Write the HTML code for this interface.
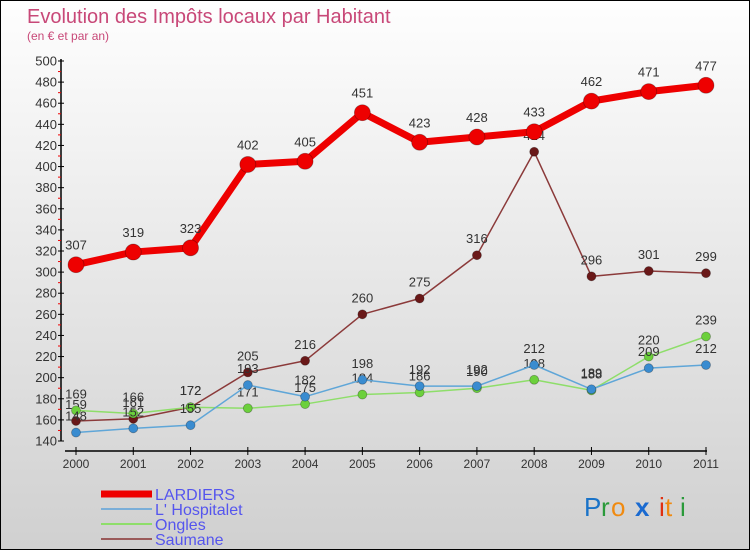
<!DOCTYPE html>
<html><head><meta charset="utf-8"><style>
body{margin:0;}
#wrap{position:relative;width:748px;height:548px;border:1px solid #000;background:linear-gradient(#fefefe,#d0d0d0);font-family:"Liberation Sans",sans-serif;overflow:hidden}
svg{position:absolute;left:0;top:0}
</style></head><body>
<div id="wrap">
<svg id="c" width="750" height="550">
<text x="26" y="22" font-size="20" fill="#c84878">Evolution des Impôts locaux par Habitant</text>
<text x="26" y="39" font-size="12" fill="#c84878">(en € et par an)</text>
<g id="axes"></g><g id="series"></g><g id="legend"></g>
<g font-size="26" font-family="Liberation Sans, sans-serif">
<text x="583" y="515" fill="#1a73c8">P</text><text x="600" y="515" fill="#2a9a3a">r</text><text x="610" y="515" fill="#f08a10">o</text><text x="634" y="515" fill="#1a6ad0" font-weight="bold">x</text><text x="658" y="515" fill="#e03010">i</text><text x="664" y="515" fill="#f08a10">t</text><text x="679" y="515" fill="#2a9a3a">i</text>
</g>
</svg></div>
<script>
const years=["2000","2001","2002","2003","2004","2005","2006","2007","2008","2009","2010","2011"];
const lardiers=[307,319,323,402,405,451,423,428,433,462,471,477];
const hospitalet=[148,152,155,193,182,198,192,192,212,189,209,212];
const ongles=[169,166,172,171,175,184,186,190,198,188,220,239];
const saumane=[159,161,172,205,216,260,275,316,414,296,301,299];
const yTicks=[140,160,180,200,220,240,260,280,300,320,340,360,380,400,420,440,460,480,500];
const NS="http://www.w3.org/2000/svg";
const x=i=>75+i*(630/11);
const y=v=>440-(v-140)*(380/360);
function mk(tag,attrs,parent){const e=document.createElementNS(NS,tag);for(const k in attrs)e.setAttribute(k,attrs[k]);parent.appendChild(e);return e;}
const ax=document.getElementById('axes');
let e=mk('line',{x1:60,y1:58,x2:60,y2:440,stroke:'#000','stroke-width':1.5},ax);


e=mk('line',{x1:64,y1:450,x2:706,y2:450,stroke:'#000','stroke-width':1.5},ax);


yTicks.forEach((t,i)=>{
 mk('line',{x1:57,y1:y(t),x2:63,y2:y(t),stroke:'#000'},ax);
 if(i<yTicks.length-1)mk('line',{x1:57,y1:y(t+10),x2:60,y2:y(t+10),stroke:'#e00'},ax);
 const tx=mk('text',{x:56,y:y(t)+4.5,'font-size':13,'text-anchor':'end',fill:'#333'},ax);
 tx.textContent=t;
 
 
});
years.forEach((yr,i)=>{
 mk('line',{x1:x(i),y1:446,x2:x(i),y2:454,stroke:'#000'},ax);
 const tx=mk('text',{x:x(i),y:467,'font-size':12,'text-anchor':'middle',fill:'#333'},ax);
 tx.textContent=yr;
 
 
});
const sg=document.getElementById('series');
function series(name,data,color,pt,w,r,off){
 const g=mk('g',{},sg);
 
 
 const l=mk('polyline',{points:data.map((v,i)=>x(i)+','+y(v)).join(' '),fill:'none',stroke:color,'stroke-width':w,'stroke-linejoin':'round'},g);
 
 
 data.forEach((v,i)=>{
  const c=mk('circle',{cx:x(i),cy:y(v),r:r,fill:pt,stroke:'rgba(0,0,0,0.3)','stroke-width':0.8},g);
  
  
  const t=mk('text',{x:x(i),y:y(v)-off,'font-size':13,'text-anchor':'middle',fill:'#333'},g);
  t.textContent=v;
  
  
 });
}
series('saumane',saumane,'#8b3a3a','#6a1818',1.5,4.5,12);
series('ongles',ongles,'#8ede6a','#6cd03c',1.5,4.5,12);
series('hospitalet',hospitalet,'#5fa6d8','#3a8cd0',1.5,4.5,12);
series('lardiers',lardiers,'#ee0000','#ee0000',7,8,15);
const lg=document.getElementById('legend');
const items=[['LARDIERS','#ee0000',7],["L' Hospitalet",'#7aaed8',2],['Ongles','#8ede6a',2],['Saumane','#9a5a5a',2]];
items.forEach((it,i)=>{
 const yy=493+i*15;
 const l=mk('line',{x1:100,y1:yy,x2:151,y2:yy,stroke:it[1],'stroke-width':it[2]},lg);
 
 
 const t=mk('text',{x:154,y:yy+6,'font-size':16,fill:'#5555ee'},lg);
 t.textContent=it[0];
 
 
});
</script>
</body></html>
